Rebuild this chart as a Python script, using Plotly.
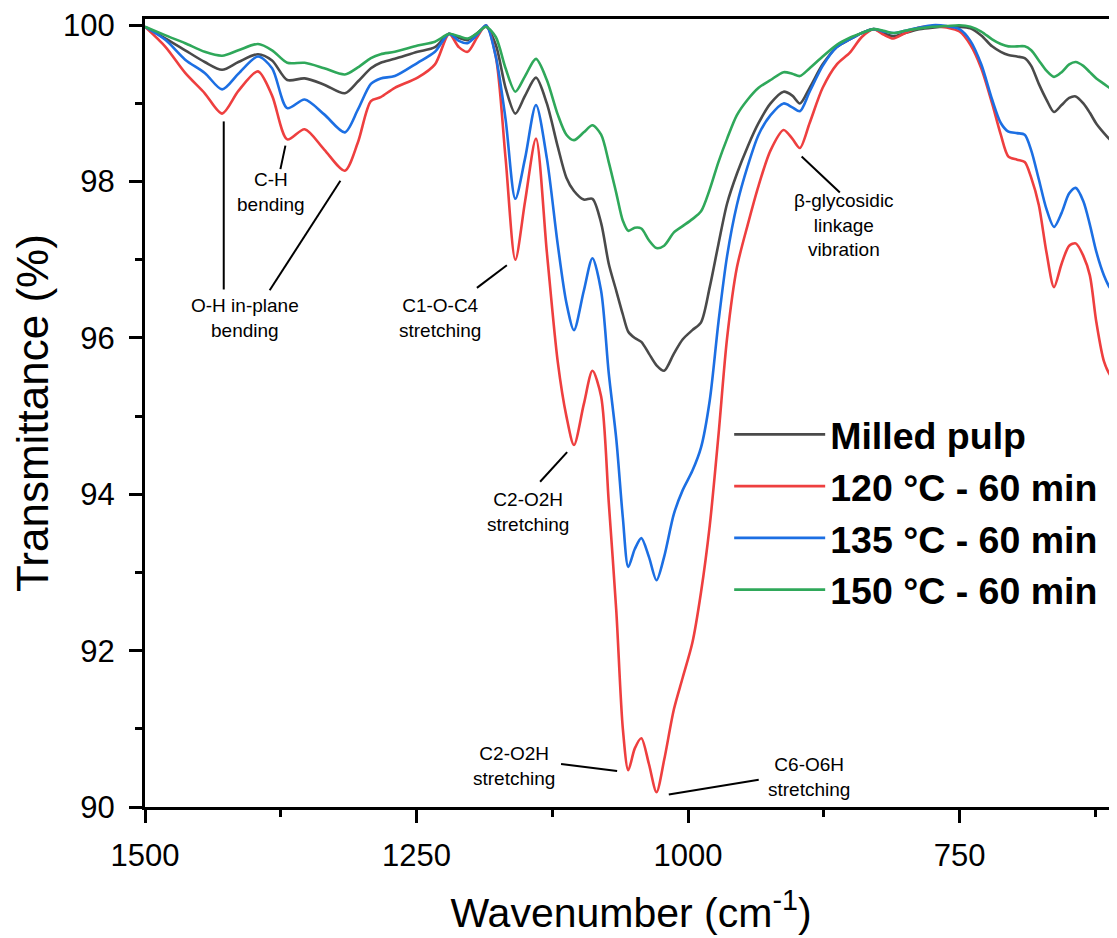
import plotly.graph_objects as go

# ---------------- data ----------------
wavenumber = [1500, 1481, 1463, 1445, 1429, 1414, 1396, 1383, 1369, 1353, 1335, 1316, 1304, 1292,
              1283, 1270, 1249, 1233, 1220, 1211, 1203, 1194, 1186, 1177, 1168, 1159, 1150, 1140,
              1130, 1120, 1112, 1105, 1096, 1088, 1080, 1073, 1066, 1060, 1055, 1049, 1043, 1036,
              1029, 1022, 1013, 1005, 996, 988, 980, 972, 964, 955, 945, 935, 924, 912, 904, 897,
              888, 876, 863, 851, 840, 829, 820, 811, 800, 787, 775, 762, 750, 740, 730, 720, 712,
              705, 697, 690, 684, 677, 670, 663, 656, 649, 643, 636, 630, 624, 617, 611, 605]

milled_pulp = [99.98, 99.83, 99.68, 99.53, 99.43, 99.53, 99.63, 99.55, 99.30, 99.32, 99.24, 99.13, 99.28, 99.45,
               99.52, 99.57, 99.66, 99.72, 99.89, 99.84, 99.81, 99.90, 99.98, 99.75, 99.20, 98.87, 99.10, 99.33,
               99.00, 98.45, 98.05, 97.88, 97.77, 97.78, 97.47, 96.95, 96.60, 96.30, 96.08, 96.00, 95.95, 95.80,
               95.65, 95.58, 95.80, 95.98, 96.10, 96.20, 96.65, 97.20, 97.72, 98.10, 98.45, 98.75, 99.00, 99.15, 99.10, 99.00,
               99.20, 99.50, 99.72, 99.82, 99.90, 99.95, 99.90, 99.86, 99.90, 99.95, 99.97, 99.98, 99.98, 99.96, 99.87, 99.73, 99.66,
               99.62, 99.60, 99.58, 99.48, 99.25, 99.05, 98.89, 98.98, 99.07, 99.09, 99.00, 98.88, 98.74, 98.62, 98.53, 98.46]

t120_60 = [99.98, 99.72, 99.39, 99.13, 98.87, 99.16, 99.41, 99.10, 98.54, 98.67, 98.41, 98.14, 98.50, 99.03,
           99.08, 99.20, 99.33, 99.50, 99.89, 99.72, 99.66, 99.85, 100.00, 99.60, 98.30, 97.00, 97.75, 98.55,
           97.10, 95.70, 95.00, 94.63, 95.15, 95.58, 95.25, 93.90, 92.50, 91.00, 90.47, 90.75, 90.88, 90.55,
           90.19, 90.60, 91.25, 91.65, 92.10, 92.75, 93.60, 94.75, 96.00, 96.90, 97.45, 97.95, 98.40, 98.66, 98.55, 98.43,
           98.75, 99.20, 99.50, 99.65, 99.85, 99.95, 99.88, 99.83, 99.90, 99.97, 99.99, 99.97, 99.92, 99.75, 99.45, 99.00, 98.60,
           98.32, 98.28, 98.25, 98.05, 97.70, 97.10, 96.65, 96.95, 97.18, 97.21, 97.05, 96.80, 96.20, 95.70, 95.52, 95.45]

t135_60 = [99.98, 99.81, 99.56, 99.39, 99.18, 99.38, 99.60, 99.45, 98.94, 99.05, 98.86, 98.63, 98.92, 99.25,
           99.32, 99.35, 99.52, 99.66, 99.89, 99.80, 99.77, 99.88, 100.00, 99.60, 98.80, 97.78, 98.30, 98.98,
           98.30, 97.20, 96.45, 96.10, 96.60, 97.02, 96.60, 95.55, 94.70, 93.70, 93.07, 93.30, 93.44, 93.20,
           92.90, 93.20, 93.75, 94.05, 94.30, 94.60, 95.20, 96.20, 97.05, 97.70, 98.20, 98.60, 98.85, 99.00, 98.95, 98.90,
           99.15, 99.48, 99.72, 99.82, 99.90, 99.95, 99.92, 99.90, 99.93, 99.97, 100.00, 99.99, 99.95, 99.80, 99.50, 99.05, 98.75,
           98.64, 98.62, 98.60, 98.40, 98.03, 97.65, 97.42, 97.60, 97.85, 97.92, 97.75, 97.45, 97.10, 96.80, 96.63, 96.55]

t150_60 = [99.98, 99.87, 99.77, 99.66, 99.61, 99.68, 99.76, 99.68, 99.52, 99.52, 99.45, 99.37, 99.46, 99.58,
           99.63, 99.66, 99.74, 99.79, 99.89, 99.86, 99.83, 99.90, 99.98, 99.85, 99.45, 99.15, 99.35, 99.57,
           99.30, 98.86, 98.60, 98.53, 98.63, 98.72, 98.60, 98.25, 97.85, 97.50, 97.37, 97.41, 97.40, 97.25,
           97.15, 97.18, 97.35, 97.43, 97.52, 97.62, 97.90, 98.25, 98.55, 98.85, 99.05, 99.20, 99.30, 99.40, 99.38, 99.35,
           99.45, 99.60, 99.75, 99.84, 99.90, 99.95, 99.93, 99.90, 99.93, 99.96, 99.98, 99.99, 100.00, 99.98, 99.92, 99.82, 99.76,
           99.73, 99.73, 99.73, 99.68, 99.55, 99.42, 99.34, 99.40, 99.50, 99.53, 99.48, 99.40, 99.32, 99.25, 99.19, 99.13]

series_names = ["Milled pulp", "120 °C - 60 min", "135 °C - 60 min", "150 °C - 60 min"]
series_values = [milled_pulp, t120_60, t135_60, t150_60]

x_tick_values = [1500, 1250, 1000, 750]
x_minor_values = [1375, 1125, 875, 625]
y_tick_values = [90, 92, 94, 96, 98, 100]
y_minor_values = [91, 93, 95, 97, 99]

# band labels: text, label centre (wavenumber, %T)
band_labels = ["O-H in-plane<br>bending", "C-H<br>bending", "C1-O-C4<br>stretching",
               "C2-O2H<br>stretching", "C2-O2H<br>stretching", "C6-O6H<br>stretching",
               "β-glycosidic<br>linkage<br>vibration"]
band_label_x = [1408, 1384, 1228, 1147, 1160, 889, 856]
band_label_y = [96.26, 97.87, 96.26, 93.78, 90.52, 90.39, 97.45]

# leader lines: (wn0, T0) -> (wn1, T1)
leader_x0 = [1427.5, 1370.7, 1320.1, 1166.8, 1111.3, 1116.9, 1017.7, 895.4]
leader_y0 = [98.77, 98.46, 98.01, 96.93, 94.54, 90.55, 90.16, 98.32]
leader_x1 = [1427.5, 1375.3, 1385.2, 1194.4, 1136.2, 1065.3, 934.9, 860.2]
leader_y1 = [96.62, 98.16, 96.61, 96.64, 94.16, 90.46, 90.35, 97.86]

# ---------------- styling ----------------
colors = ["#4a4a4a", "#ee3f3f", "#1c6fe3", "#2fa85a"]
FONT = "Arial, 'Liberation Sans', Helvetica, sans-serif"

fig = go.Figure()
for name, vals, col in zip(series_names, series_values, colors):
    fig.add_trace(go.Scatter(
        x=wavenumber, y=vals, mode="lines", name=name, legendgroup=name,
        line=dict(color=col, width=2.6, shape="spline", smoothing=0.8),
    ))

for txt, lx, ly in zip(band_labels, band_label_x, band_label_y):
    fig.add_annotation(x=lx, y=ly, xref="x", yref="y", text=txt, showarrow=False,
                       font=dict(family=FONT, size=19, color="black"), align="center")

for x0, y0, x1, y1 in zip(leader_x0, leader_y0, leader_x1, leader_y1):
    fig.add_shape(type="line", xref="x", yref="y", x0=x0, y0=y0, x1=x1, y1=y1,
                  line=dict(color="black", width=2))

axis_common = dict(
    showline=True, linecolor="black", linewidth=3, ticks="outside", ticklen=13,
    tickwidth=2.5, tickcolor="black", showgrid=False, zeroline=False,
    tickfont=dict(family=FONT, size=31, color="black"),
    ticklabeloverflow="allow",
)

fig.update_layout(
    width=1109, height=930,
    margin=dict(l=137, r=0, t=8, b=131),
    paper_bgcolor="white", plot_bgcolor="white",
    font=dict(family=FONT, color="black"),
    xaxis=dict(
        range=[1500, 605], tickvals=x_tick_values, mirror=True,
        minor=dict(tickvals=x_minor_values, ticks="outside", ticklen=7, tickwidth=2.5, tickcolor="black"),
        title=dict(text="Wavenumber (cm<sup>-1</sup>)", font=dict(family=FONT, size=41), standoff=27),
        ticklabelstandoff=6,
        **axis_common,
    ),
    yaxis=dict(
        range=[90, 100.08], tickvals=y_tick_values,
        minor=dict(tickvals=y_minor_values, ticks="outside", ticklen=7, tickwidth=2.5, tickcolor="black"),
        title=dict(text="Transmittance (%)", font=dict(family=FONT, size=44), standoff=3),
        ticklabelstandoff=8,
        **axis_common,
    ),
    legend=dict(
        x=0.601, xanchor="left", y=0.512, yanchor="top",
        font=dict(family=FONT, size=37.5, color="black", weight="bold"),
        bgcolor="rgba(0,0,0,0)", borderwidth=0, tracegroupgap=0,
        traceorder="normal", itemwidth=91,
    ),
    showlegend=True,
)

fig.write_html("out.html")
